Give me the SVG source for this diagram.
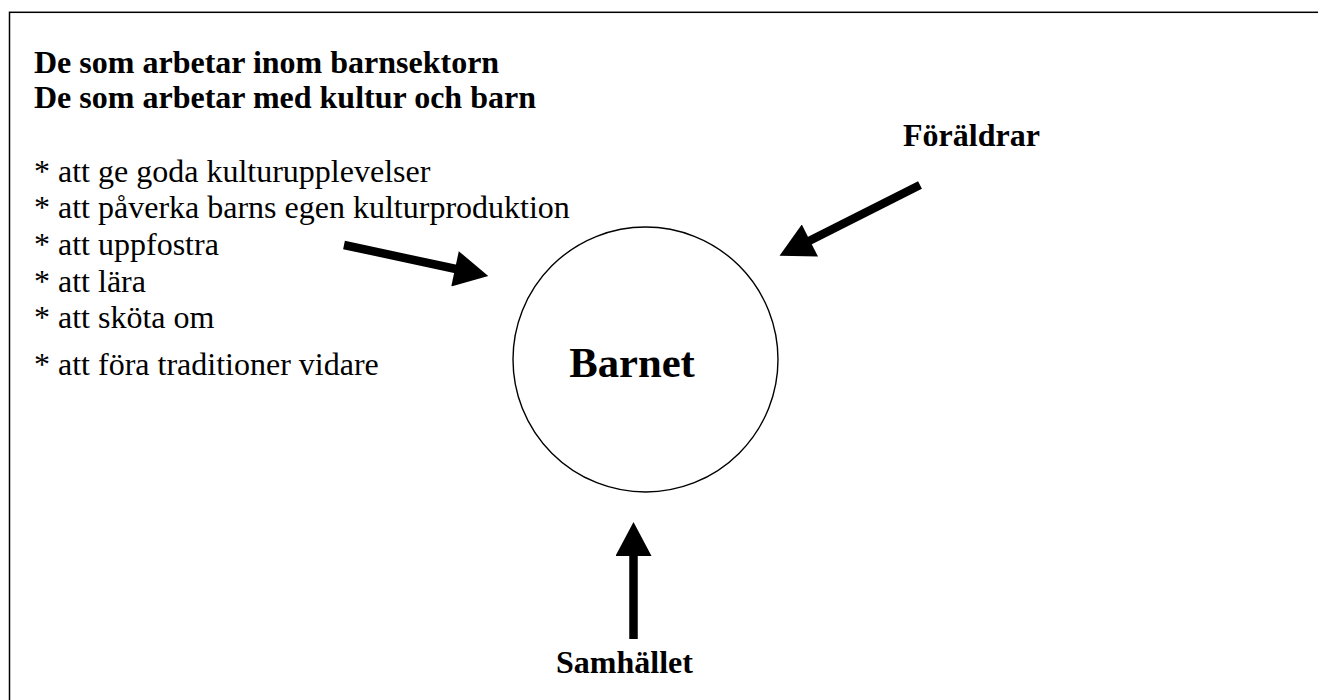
<svg xmlns="http://www.w3.org/2000/svg" width="1318" height="700" viewBox="0 0 1318 700">
<style>
text{font-family:"Liberation Serif","Times New Roman",serif;fill:#000}
.b{font-weight:bold;font-size:32px}
.r{font-size:32px}
.shaft{stroke:#000;stroke-width:8.5;fill:none}
</style>
<defs>
<marker id="head" markerUnits="userSpaceOnUse" markerWidth="36" markerHeight="36" viewBox="0 0 34 36" refX="1" refY="18" orient="auto">
<path d="M0,0 L34,18 L0,36 Z" fill="#000"/>
</marker>
</defs>
<rect x="0" y="0" width="1318" height="700" fill="#fff"/>
<rect id="frame" x="9.5" y="12.3" width="1320" height="700" fill="none" stroke="#000" stroke-width="1.5"/>
<g id="workers">
<text class="b" x="34" y="72.7">De som arbetar inom barnsektorn</text>
<text class="b" x="34" y="108.3">De som arbetar med kultur och barn</text>
<text class="r" x="34" y="181.7">* att ge goda kulturupplevelser</text>
<text class="r" x="34" y="217.5">* att påverka barns egen kulturproduktion</text>
<text class="r" x="34" y="255">* att uppfostra</text>
<text class="r" x="34" y="291.7">* att lära</text>
<text class="r" x="34" y="328">* att sköta om</text>
<text class="r" x="34" y="375">* att föra traditioner vidare</text>
</g>
<g id="barnet">
<circle cx="645.5" cy="359.5" r="132.5" fill="none" stroke="#000" stroke-width="1.4"/>
<text x="632" y="376.5" text-anchor="middle" font-weight="bold" font-size="42.7">Barnet</text>
</g>
<g id="foraldrar">
<text class="b" x="903" y="145.7">Föräldrar</text>
</g>
<g id="samhallet">
<text class="b" x="556" y="673">Samhället</text>
</g>
<g id="connectors">
<line class="shaft" x1="344" y1="245" x2="456" y2="269" marker-end="url(#head)"/>
<line class="shaft" x1="920" y1="185" x2="809" y2="241" marker-end="url(#head)"/>
<line class="shaft" x1="633.5" y1="639" x2="633.5" y2="555" marker-end="url(#head)"/>
</g>
</svg>
